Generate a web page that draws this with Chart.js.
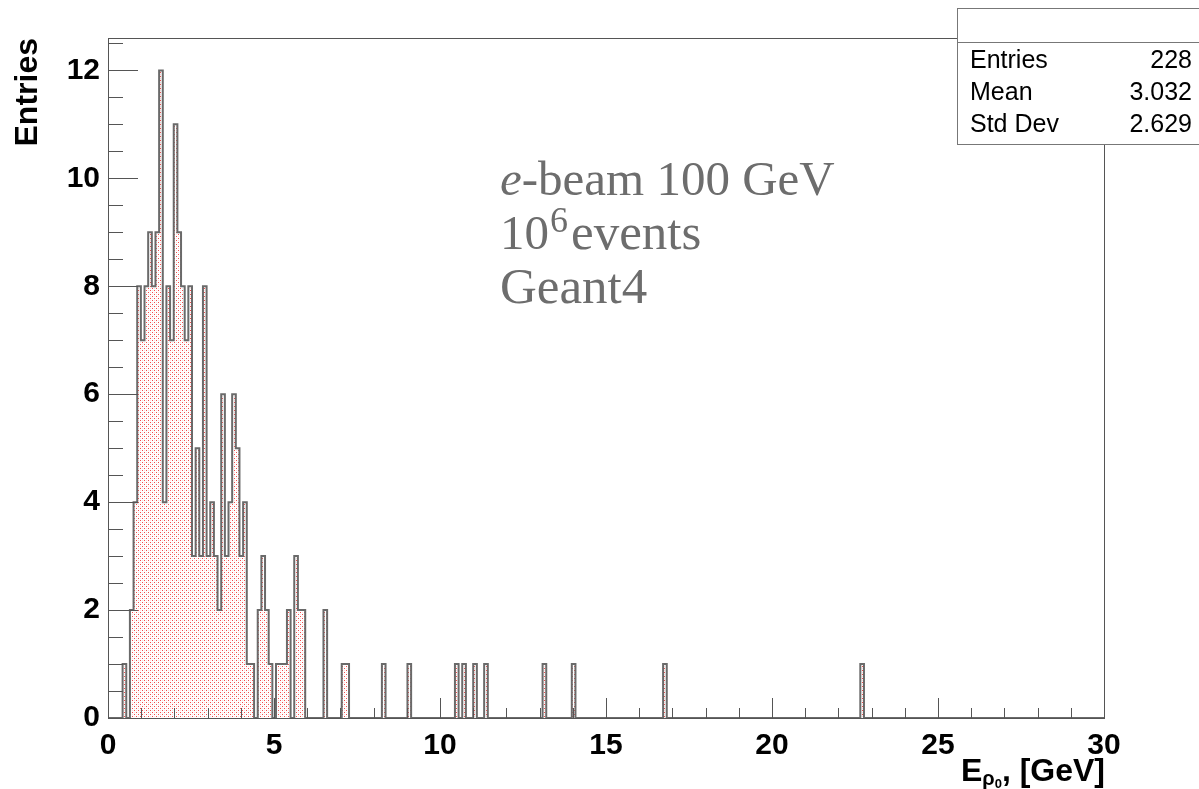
<!DOCTYPE html>
<html>
<head>
<meta charset="utf-8">
<script src="https://cdn.jsdelivr.net/npm/chart.js@4.4.0/dist/chart.umd.min.js"></script>
<style>
html, body { margin: 0; padding: 0; background: #fff; }
#wrap { position: relative; width: 1199px; height: 789px; }
</style>
</head>
<body>
<div id="wrap"><canvas id="js-histo" width="1199" height="789"></canvas></div>
<script>
// histogram: 0.11 GeV bins starting at 0
const binWidth = 0.11;
const firstBinCounts = [
    0, 0, 0, 0, 1, 0, 2, 4, 8, 7,
    8, 9, 8, 9, 12, 4, 8, 7, 11, 9,
    8, 7, 8, 3, 5, 3, 8, 3, 4, 3,
    2, 6, 3, 4, 6, 5, 3, 4, 1, 1,
    0, 2, 3, 2, 1, 0, 1, 1, 1, 2,
    0, 3, 2, 2
];
const tailBins = [59, 64, 65, 75, 82, 95, 97, 100, 103, 119, 127, 152, 206];
const tailCounts = [2, 1, 1, 1, 1, 1, 1, 1, 1, 1, 1, 1, 1];
const nBins = 273;

const xTicks = [0, 5, 10, 15, 20, 25, 30];
const yTicks = [0, 2, 4, 6, 8, 10, 12];

const statNames = ['Entries', 'Mean', 'Std Dev'];
const statValues = ['228', '3.032', '2.629'];

const counts = new Array(nBins).fill(0);
firstBinCounts.forEach((c, i) => { counts[i] = c; });
tailBins.forEach((b, i) => { counts[b] = tailCounts[i]; });

const points = counts.map((c, i) => ({ x: i * binWidth, y: c }));
points.push({ x: nBins * binWidth, y: 0 });

function dotPattern() {
    const c = document.createElement('canvas');
    c.width = 4; c.height = 4;
    const g = c.getContext('2d');
    g.fillStyle = '#fff';
    g.fillRect(0, 0, 4, 4);
    g.fillStyle = 'rgba(240,45,45,0.85)';
    g.fillRect(0, 0, 1, 1);
    g.fillRect(2, 2, 1, 1);
    g.fillStyle = 'rgba(245,160,160,0.35)';
    g.fillRect(2, 0, 1, 1);
    g.fillRect(0, 2, 1, 1);
    return g.createPattern(c, 'repeat');
}

const SANS = '"Liberation Sans", Arial, sans-serif';
const SERIF = '"Liberation Serif", "Times New Roman", serif';

const rootFrame = {
    id: 'rootFrame',
    afterDatasetsDraw(chart) {
        const { ctx, chartArea: a, scales: { x, y } } = chart;
        ctx.save();
        ctx.strokeStyle = '#555';
        ctx.lineWidth = 1;
        ctx.strokeRect(a.left + 0.5, a.top + 0.5, a.right - a.left, a.bottom - a.top);
        ctx.beginPath();
        for (let v = 0; v <= 12.5; v += 0.5) {
            const py = Math.round(y.getPixelForValue(v)) + 0.5;
            const len = v % 2 === 0 ? 30 : 15;
            ctx.moveTo(a.left, py);
            ctx.lineTo(a.left + len, py);
        }
        for (let v = 0; v <= 30; v++) {
            const px = Math.round(x.getPixelForValue(v)) + 0.5;
            const len = v % 5 === 0 ? 20 : 10;
            ctx.moveTo(px, a.bottom);
            ctx.lineTo(px, a.bottom - len);
        }
        ctx.stroke();
        ctx.restore();
    },
    afterDraw(chart) {
        const { ctx, chartArea: a } = chart;
        ctx.save();

        // y title
        ctx.save();
        ctx.translate(28, a.top);
        ctx.rotate(-Math.PI / 2);
        ctx.font = 'bold 32px ' + SANS;
        ctx.fillStyle = '#000';
        ctx.textAlign = 'right';
        ctx.textBaseline = 'middle';
        ctx.fillText('Entries', 0, 0);
        ctx.restore();

        // x title  E_{rho_0}, [GeV]
        ctx.fillStyle = '#000';
        ctx.textBaseline = 'alphabetic';
        ctx.textAlign = 'left';
        const fMain = 'bold 32px ' + SANS;
        const fSub = 'bold 20px ' + SANS;
        const fSub2 = 'bold 13px ' + SANS;
        ctx.font = fMain; const wE = ctx.measureText('E').width;
        const wRest = ctx.measureText(', [GeV]').width;
        ctx.font = fSub; const wRho = ctx.measureText('\u03c1').width;
        ctx.font = fSub2; const wZero = ctx.measureText('0').width;
        let tx = a.right + 1 - (wE + wRho + wZero + wRest);
        const base = 781;
        ctx.font = fMain; ctx.fillText('E', tx, base); tx += wE;
        ctx.font = fSub; ctx.fillText('\u03c1', tx, base + 4); tx += wRho;
        ctx.font = fSub2; ctx.fillText('0', tx, base + 7); tx += wZero;
        ctx.font = fMain; ctx.fillText(', [GeV]', tx, base);

        // stats box
        ctx.fillStyle = '#fff';
        ctx.fillRect(957, 8, 250, 137);
        ctx.strokeStyle = '#777';
        ctx.lineWidth = 1;
        ctx.strokeRect(957.5, 8.5, 250, 136);
        ctx.beginPath();
        ctx.moveTo(957, 42.5);
        ctx.lineTo(1199, 42.5);
        ctx.stroke();
        ctx.font = '25px ' + SANS;
        ctx.fillStyle = '#000';
        ctx.textBaseline = 'middle';
        statNames.forEach((n, i) => {
            const ry = 61 + i * 32;
            ctx.textAlign = 'left';
            ctx.fillText(n, 970, ry);
            ctx.textAlign = 'right';
            ctx.fillText(statValues[i], 1192, ry);
        });

        // annotation
        ctx.fillStyle = '#6d6d6d';
        ctx.textAlign = 'left';
        ctx.textBaseline = 'alphabetic';
        let nx = 500;
        ctx.font = 'italic 49px ' + SERIF;
        ctx.fillText('e', nx, 195);
        nx += ctx.measureText('e').width;
        ctx.font = '49px ' + SERIF;
        ctx.fillText('-beam 100 GeV', nx, 195);
        nx = 500;
        ctx.fillText('10', nx, 249);
        nx += ctx.measureText('10').width + 1;
        ctx.font = '36px ' + SERIF;
        ctx.fillText('6', nx, 232);
        nx += ctx.measureText('6').width + 3;
        ctx.font = '51px ' + SERIF;
        ctx.fillText('events', nx, 249);
        ctx.fillText('Geant4', 500, 303);

        ctx.restore();
    }
};

const chartConfig = {
    type: 'line',
    data: {
        datasets: [{
            data: points,
            stepped: 'before',
            borderColor: '#6a6a6a',
            borderWidth: 2,
            backgroundColor: dotPattern(),
            fill: 'origin',
            pointRadius: 0,
            tension: 0
        }]
    },
    options: {
        responsive: false,
        animation: false,
        layout: { padding: { left: 0, right: 95, top: 38, bottom: 0 } },
        plugins: { legend: { display: false }, tooltip: { enabled: false } },
        scales: {
            x: {
                type: 'linear',
                min: 0,
                max: 30,
                afterFit: (s) => { s.height = 71; },
                afterBuildTicks: (s) => { s.ticks = xTicks.map(v => ({ value: v })); },
                grid: { display: false, drawTicks: false },
                border: { display: false },
                ticks: {
                    padding: 10,
                    maxRotation: 0,
                    autoSkip: false,
                    color: '#000',
                    font: { family: SANS, size: 30, weight: 'bold' }
                }
            },
            y: {
                type: 'linear',
                min: 0,
                max: 12.6,
                afterFit: (s) => { s.width = 108; },
                afterBuildTicks: (s) => { s.ticks = yTicks.map(v => ({ value: v })); },
                grid: { display: false, drawTicks: false },
                border: { display: false },
                ticks: {
                    padding: 8,
                    autoSkip: false,
                    color: '#000',
                    font: { family: SANS, size: 30, weight: 'bold' }
                }
            }
        }
    },
    plugins: [rootFrame]
};

const histo = new Chart(document.getElementById('js-histo'), chartConfig);
</script>
</body>
</html>
